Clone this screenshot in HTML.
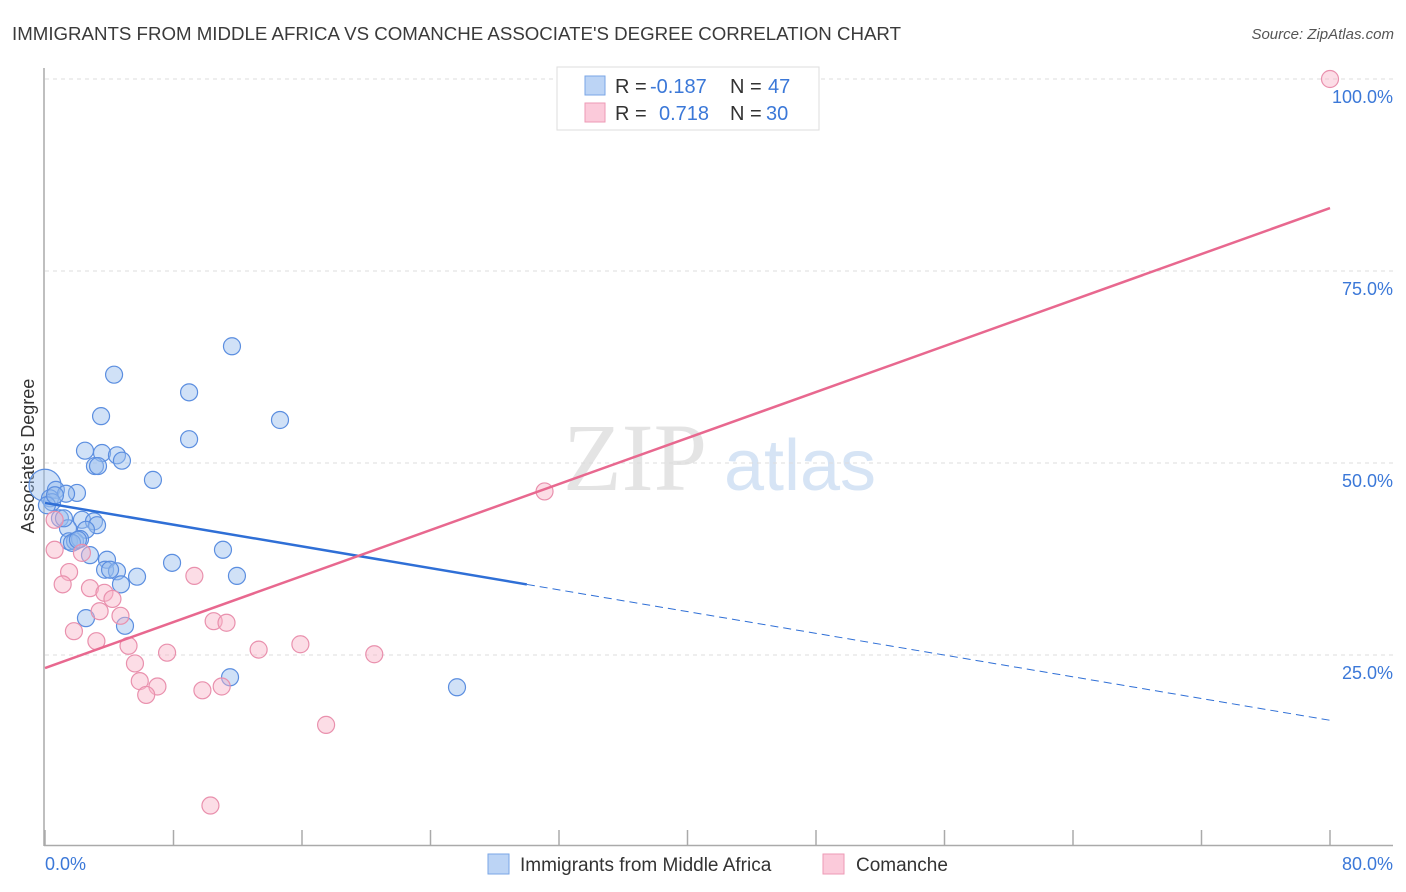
<!DOCTYPE html>
<html><head><meta charset="utf-8"><style>
body{margin:0;background:#fff;font-family:"Liberation Sans",sans-serif}
svg{display:block}
</style></head><body>
<svg id="c" width="1406" height="892">
<text x="12" y="40" font-size="18" fill="#3a3a3a" textLength="889" lengthAdjust="spacingAndGlyphs">IMMIGRANTS FROM MIDDLE AFRICA VS COMANCHE ASSOCIATE'S DEGREE CORRELATION CHART</text>
<text x="1394" y="39" font-size="15" fill="#555" text-anchor="end" font-style="italic">Source: ZipAtlas.com</text>
<text x="635" y="490" font-size="96" fill="#e4e4e4" font-family="Liberation Serif" text-anchor="middle">ZIP</text>
<text x="800" y="490" font-size="72" fill="#d6e4f5" text-anchor="middle">atlas</text>
<g id="grid"></g>
<line x1="44" y1="68" x2="44" y2="846" stroke="#aaa" stroke-width="1.5"/>
<line x1="44" y1="845.5" x2="1393" y2="845.5" stroke="#aaa" stroke-width="1.5"/>
<g id="ticks"></g>
<text x="34" y="456" font-size="18" fill="#333" text-anchor="middle" transform="rotate(-90 34 456)">Associate's Degree</text>
<text x="45" y="870" font-size="18" fill="#3b78d8">0.0%</text>
<text x="1393" y="870" font-size="18" fill="#3b78d8" text-anchor="end">80.0%</text>
<g id="pts"></g>
<g id="lines"></g>
<g>
<rect x="557" y="67" width="262" height="63" fill="#fff" stroke="#ddd"/>
<rect x="585" y="76" width="20" height="19" fill="#bcd4f5" stroke="#7aa6e6"/>
<rect x="585" y="103" width="20" height="19" fill="#fbcada" stroke="#ee9ab5"/>
<text y="93" font-size="20" fill="#333"><tspan x="615">R =</tspan><tspan x="650" fill="#3b78d8">-0.187</tspan><tspan x="730">N =</tspan><tspan x="768" fill="#3b78d8">47</tspan></text>
<text y="120" font-size="20" fill="#333"><tspan x="615">R =</tspan><tspan x="659" fill="#3b78d8">0.718</tspan><tspan x="730">N =</tspan><tspan x="766" fill="#3b78d8">30</tspan></text>
</g>
<g>
<rect x="488" y="854" width="21" height="20" fill="#bcd4f5" stroke="#7aa6e6"/>
<text x="520" y="871" font-size="19" fill="#333">Immigrants from Middle Africa</text>
<rect x="823" y="854" width="21" height="20" fill="#fbcada" stroke="#ee9ab5"/>
<text x="856" y="871" font-size="19" fill="#333">Comanche</text>
</g>
</svg>
<script>
const yTicks=[25,50,75,100];
const xTickCount=10;
const blueX=[11.64,4.30,8.97,3.49,14.63,8.97,2.49,3.55,4.48,4.79,3.11,3.30,6.72,0.0,0.68,1.99,1.31,0.31,0.44,0.93,2.30,3.05,3.24,1.43,2.55,1.49,1.87,2.18,1.68,2.80,3.86,3.74,4.48,5.73,4.73,7.91,11.08,11.95,2.55,4.98,11.52,25.65,0.12,0.62,1.18,2.05,4.05];
const blueY=[65.2,61.5,59.2,56.1,55.6,53.1,51.6,51.3,51.0,50.3,49.6,49.6,47.8,47.1,46.5,46.1,46.0,45.4,44.9,42.8,42.6,42.4,41.9,41.5,41.3,39.8,39.8,40.1,39.6,38.0,37.4,36.1,35.9,35.2,34.2,37.0,38.7,35.3,29.8,28.8,22.1,20.8,44.5,45.8,42.8,40.0,36.1];
const pinkX=[80.0,31.1,0.6,1.5,1.1,2.3,2.8,3.7,4.2,3.4,4.7,1.8,3.2,5.2,7.6,9.3,10.5,11.3,13.3,15.9,20.5,5.6,5.9,7.0,6.3,9.8,11.0,17.5,10.3,0.6];
const pinkY=[100,46.3,38.7,35.8,34.2,38.3,33.7,33.1,32.3,30.7,30.1,28.1,26.8,26.2,25.3,35.3,29.4,29.2,25.7,26.4,25.1,23.9,21.6,20.9,19.8,20.4,20.9,15.9,5.4,42.6];
const blueLine=[44.8,16.5], blueSolidEnd=30.0;
const pinkLine=[23.3,83.2];
const NS='http://www.w3.org/2000/svg';
const X=v=>45+v/80*1285, Y=v=>847-v*7.68;
function mk(tag,attrs,parent){const e=document.createElementNS(NS,tag);for(const k in attrs)e.setAttribute(k,attrs[k]);document.getElementById(parent).appendChild(e);return e;}
yTicks.forEach(t=>{
 const g=mk('line',{x1:45,x2:1393,y1:Y(t),y2:Y(t),stroke:'#ddd','stroke-dasharray':'4,4'},'grid');
 
 
 const l=mk('text',{x:1393,y:Y(t)+24,'font-size':18,fill:'#3b78d8','text-anchor':'end'},'grid');
 l.textContent=t.toFixed(1)+'%';
 
 
});
for(let i=0;i<=xTickCount;i++){
 const t=mk('line',{x1:X(i*8),x2:X(i*8),y1:830,y2:846,stroke:'#aaa','stroke-width':1.5},'ticks');
 
 
}
blueX.forEach((v,i)=>{
 const c=mk('circle',{cx:X(v),cy:Y(blueY[i]),r:(i==13?16:8.5),fill:'rgba(150,188,238,0.45)',stroke:'#5b8ee0','stroke-width':1.2},'pts');
 
 
});
pinkX.forEach((v,i)=>{
 const c=mk('circle',{cx:X(v),cy:Y(pinkY[i]),r:8.5,fill:'rgba(248,180,200,0.45)',stroke:'#e990ad','stroke-width':1.2},'pts');
 
 
});
const bAt=x=>blueLine[0]+(blueLine[1]-blueLine[0])*x/80;
let l=mk('line',{x1:X(0),y1:Y(bAt(0)),x2:X(blueSolidEnd),y2:Y(bAt(blueSolidEnd)),stroke:'#2f6fd6','stroke-width':2.5},'lines');


l=mk('line',{x1:X(blueSolidEnd),y1:Y(bAt(blueSolidEnd)),x2:X(80),y2:Y(bAt(80)),stroke:'#2f6fd6','stroke-width':1,'stroke-dasharray':'8,5'},'lines');


l=mk('line',{x1:X(0),y1:Y(pinkLine[0]),x2:X(80),y2:Y(pinkLine[1]),stroke:'#e8688f','stroke-width':2.5},'lines');


</script>
</body></html>
